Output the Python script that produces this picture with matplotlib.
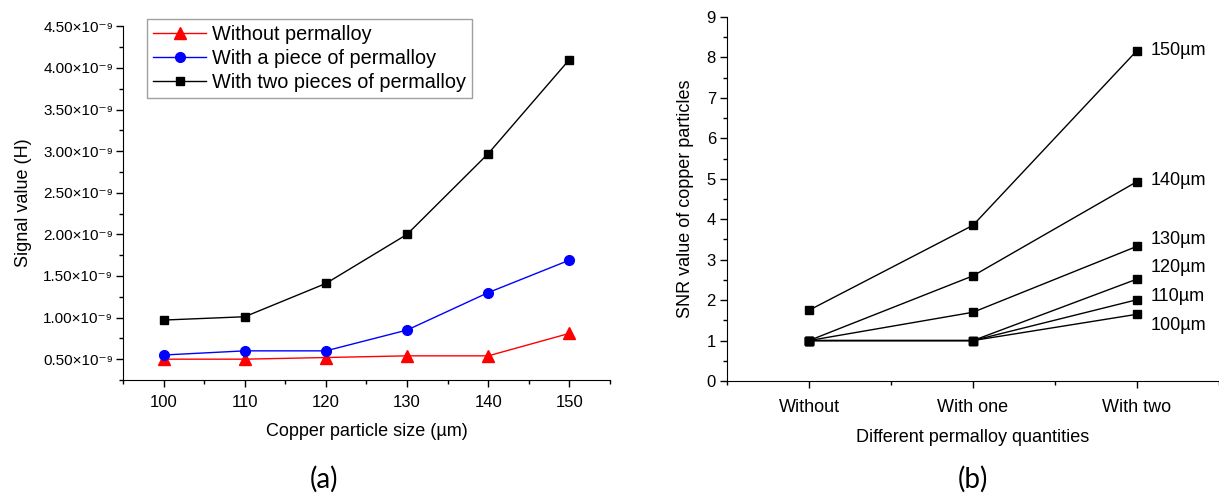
import numpy as np
import matplotlib
matplotlib.use('Agg')
import matplotlib.pyplot as plt
from matplotlib.ticker import FuncFormatter, MultipleLocator

plt.rcParams['font.family'] = ['Liberation Sans', 'DejaVu Sans']

# panel (a) data
sizes = [100, 110, 120, 130, 140, 150]
without_perm = [0.50e-9, 0.50e-9, 0.52e-9, 0.54e-9, 0.54e-9, 0.81e-9]
one_perm = [0.55e-9, 0.60e-9, 0.60e-9, 0.85e-9, 1.30e-9, 1.69e-9]
two_perm = [0.97e-9, 1.01e-9, 1.41e-9, 2.00e-9, 2.97e-9, 4.10e-9]

# panel (b) data
quantities = ['Without', 'With one', 'With two']
snr_labels = ['150µm', '140µm', '130µm', '120µm', '110µm', '100µm']
snr_values = [
    [1.75, 3.85, 8.17],
    [1.0, 2.60, 4.93],
    [1.0, 1.70, 3.33],
    [1.0, 1.0, 2.52],
    [1.0, 1.0, 2.01],
    [1.0, 1.0, 1.65],
]
label_y = [8.17, 4.95, 3.50, 2.80, 2.08, 1.37]

fig = plt.figure(figsize=(12.19, 4.94), dpi=100)

# ---- panel (a)
ax1 = fig.add_axes([0.1009, 0.2308, 0.3995, 0.716])
ax1.plot(sizes, without_perm, color='red', marker='^', markersize=8, lw=1, label='Without permalloy')
ax1.plot(sizes, one_perm, color='blue', marker='o', markersize=7, lw=1, label='With a piece of permalloy')
ax1.plot(sizes, two_perm, color='black', marker='s', markersize=6, lw=1, label='With two pieces of permalloy')

ax1.set_xlim(95, 155)
ax1.set_ylim(0.25e-9, 4.5e-9)
ax1.set_xticks(sizes)
ax1.xaxis.set_minor_locator(MultipleLocator(5))
ax1.yaxis.set_major_locator(MultipleLocator(0.5e-9))
ax1.yaxis.set_minor_locator(MultipleLocator(0.25e-9))
ax1.yaxis.set_major_formatter(FuncFormatter(lambda v, p: '%.2f×10⁻⁹' % (v * 1e9)))
for s in ['top', 'right']:
    ax1.spines[s].set_visible(False)
ax1.tick_params(axis='x', labelsize=12, length=5, width=1, pad=6)
ax1.tick_params(axis='y', labelsize=11, length=5, width=1, pad=2)
ax1.tick_params(which='minor', length=3, width=1)
ax1.set_xlabel('Copper particle size (µm)', fontsize=13, labelpad=9)
ax1.set_ylabel('Signal value (H)', fontsize=13, labelpad=8)
leg = ax1.legend(loc='upper left', bbox_to_anchor=(0.049, 1.02), fontsize=14.3, frameon=True,
                 fancybox=False, edgecolor='#888888', handlelength=2.7, borderpad=0.3,
                 labelspacing=0.25, handletextpad=0.3, borderaxespad=0)
leg.get_frame().set_linewidth(1)
fig.text(0.266, 0.012, '(a)', fontsize=20, ha='center', family=['Lato', 'DejaVu Sans'])

# ---- panel (b)
ax2 = fig.add_axes([0.5964, 0.2287, 0.4036, 0.737])
xq = np.arange(1, len(quantities) + 1)
for vals in snr_values:
    ax2.plot(xq, vals, color='black', marker='s', markersize=6, lw=1)
for lab, ly in zip(snr_labels, label_y):
    ax2.annotate(lab, xy=(xq[-1], ly), xytext=(10, 0), textcoords='offset points',
                 fontsize=13, va='center', ha='left', annotation_clip=False)
ax2.set_xlim(0.5, 3.5)
ax2.set_ylim(0, 9)
ax2.set_xticks(xq)
ax2.set_xticklabels(quantities)
ax2.set_xticks([0.5, 1.5, 2.5, 3.5], minor=True)
ax2.yaxis.set_major_locator(MultipleLocator(1))
ax2.yaxis.set_minor_locator(MultipleLocator(0.5))
for s in ['top', 'right']:
    ax2.spines[s].set_visible(False)
ax2.tick_params(axis='x', labelsize=13, length=5, width=1, pad=8)
ax2.tick_params(axis='y', labelsize=12, length=5, width=1, pad=3)
ax2.tick_params(which='minor', length=3, width=1)
ax2.set_xlabel('Different permalloy quantities', fontsize=13, labelpad=9)
ax2.set_ylabel('SNR value of copper particles', fontsize=13, labelpad=9)
fig.text(0.798, 0.012, '(b)', fontsize=20, ha='center', family=['Lato', 'DejaVu Sans'])

fig.savefig('out.png', dpi=100)
